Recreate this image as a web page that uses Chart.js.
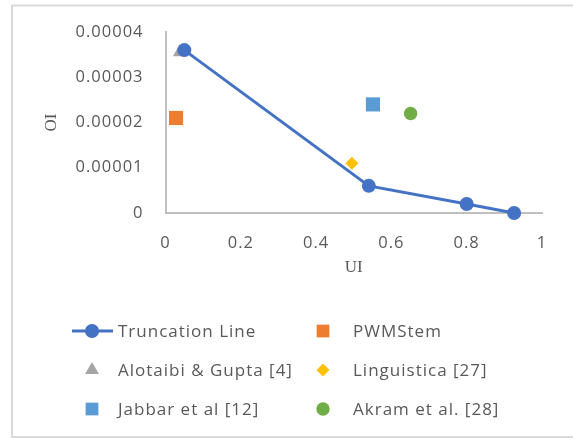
<!DOCTYPE html>
<html>
<head>
<meta charset="utf-8">
<script src="https://cdn.jsdelivr.net/npm/chart.js@4/dist/chart.umd.min.js"></script>
<style>
  html, body { margin: 0; padding: 0; background: #fff; }
  #wrap { position: relative; width: 573px; height: 439px; }
</style>
</head>
<body>
<div id="wrap"><canvas id="c" width="573" height="439"></canvas></div>
<script>
// Truncation line (UI, OI) pairs
const truncUI = [0.05, 0.54, 0.80, 0.926];
const truncOI = [0.000036, 0.000006, 0.000002, 0.0];

// Individual stemmers
const pwmUI = [0.028];        const pwmOI = [0.000021];
const alotaibiUI = [0.038];   const alotaibiOI = [0.0000355];
const linguisticaUI = [0.495]; const linguisticaOI = [0.000011];
const jabbarUI = [0.551];     const jabbarOI = [0.000024];
const akramUI = [0.651];      const akramOI = [0.000022];

const seriesNames = ['Truncation Line', 'PWMStem', 'Alotaibi & Gupta [4]', 'Linguistica [27]', 'Jabbar et al [12]', 'Akram et al. [28]'];

const xTickLabels = ['0', '0.2', '0.4', '0.6', '0.8', '1'];
const yTickLabels = ['0', '0.00001', '0.00002', '0.00003', '0.00004'];

const toPoints = (xs, ys) => xs.map((x, i) => ({ x: x, y: ys[i] }));

const TEXT = '#595959';
const AXIS = '#bfbfbf';
const SANS = '"Open Sans", Lato, sans-serif';
const SERIF = '"Liberation Serif", serif';

function marker(label, xs, ys, style, color, radius) {
  return {
    label: label,
    data: toPoints(xs, ys),
    showLine: false,
    pointStyle: style,
    pointRadius: radius,
    pointHoverRadius: radius,
    pointBackgroundColor: color,
    pointBorderColor: color,
    pointBorderWidth: 0,
    backgroundColor: color,
    borderColor: color,
    clip: false
  };
}

const datasets = [
  {
    label: seriesNames[0],
    data: toPoints(truncUI, truncOI),
    showLine: true,
    borderColor: '#4472C4',
    backgroundColor: '#4472C4',
    borderWidth: 3,
    tension: 0,
    pointStyle: 'circle',
    pointRadius: 7,
    pointHoverRadius: 7,
    pointBackgroundColor: '#4472C4',
    pointBorderColor: '#4472C4',
    pointBorderWidth: 0,
    clip: false
  },
  marker(seriesNames[1], pwmUI, pwmOI, 'rect', '#ED7D31', 10),
  marker(seriesNames[2], alotaibiUI, alotaibiOI, 'triangle', '#A5A5A5', 8),
  marker(seriesNames[3], linguisticaUI, linguisticaOI, 'rectRot', '#FFC000', 6.5),
  marker(seriesNames[4], jabbarUI, jabbarOI, 'rect', '#5B9BD5', 10),
  marker(seriesNames[5], akramUI, akramOI, 'circle', '#70AD47', 6.7)
];

// Slightly wider letter spacing for the sans tick text; axis titles keep normal spacing
const spacing = {
  id: 'spacing',
  beforeUpdate(chart) { chart.ctx.letterSpacing = '1px'; },
  afterLayout(chart) {
    Object.values(chart.scales).forEach(scale => {
      if (scale._plainTitle) return;
      const orig = scale.drawTitle.bind(scale);
      scale.drawTitle = function () {
        const ctx = this.ctx;
        const prev = ctx.letterSpacing;
        ctx.letterSpacing = '0px';
        orig();
        ctx.letterSpacing = prev;
      };
      scale._plainTitle = true;
    });
  },
  beforeDraw(chart) { chart.ctx.letterSpacing = '1px'; }
};

// Frame around the whole chart object
const framePlugin = {
  id: 'frame',
  beforeDraw(chart) {
    const ctx = chart.ctx;
    ctx.save();
    ctx.strokeStyle = '#d9d9d9';
    ctx.lineWidth = 2;
    ctx.strokeRect(12, 5.5, 620, 431.5);
    ctx.restore();
  }
};

// Two-column legend beneath the plot
const gridLegend = {
  id: 'gridLegend',
  afterDraw(chart) {
    const ctx = chart.ctx;
    const colMarkerX = [92, 323];
    const colTextX = [118, 353];
    const rowY = [331, 370, 409];
    ctx.save();
    ctx.letterSpacing = '1px';
    ctx.font = '17px ' + SANS;
    ctx.fillStyle = TEXT;
    ctx.textBaseline = 'middle';
    ctx.textAlign = 'left';
    chart.data.datasets.forEach((ds, i) => {
      const col = i % 2, row = Math.floor(i / 2);
      const mx = colMarkerX[col], my = rowY[row];
      if (ds.showLine) {
        ctx.strokeStyle = ds.borderColor;
        ctx.lineWidth = ds.borderWidth;
        ctx.beginPath();
        ctx.moveTo(mx - 20, my);
        ctx.lineTo(mx + 21, my);
        ctx.stroke();
      }
      ctx.fillStyle = ds.pointBackgroundColor;
      ctx.strokeStyle = ds.pointBorderColor;
      Chart.helpers.drawPoint(ctx, {
        pointStyle: ds.pointStyle,
        radius: ds.pointStyle === 'rect' ? 9 : ds.pointRadius,
        borderWidth: 0,
        rotation: 0
      }, mx, my);
      ctx.fillStyle = TEXT;
      ctx.fillText(ds.label, colTextX[col], my + 1);
    });
    ctx.restore();
  }
};

new Chart(document.getElementById('c'), {
  type: 'scatter',
  data: { datasets: datasets },
  plugins: [spacing, framePlugin, gridLegend],
  options: {
    responsive: false,
    animation: false,
    events: [],
    layout: { padding: { left: 12, top: 32, right: 31, bottom: 156 } },
    plugins: {
      legend: { display: false },
      tooltip: { enabled: false }
    },
    scales: {
      x: {
        type: 'linear',
        min: 0,
        max: 1,
        afterFit(scale) { scale.height = 70; },
        grid: { display: false, drawTicks: false },
        border: { display: true, color: AXIS, width: 2 },
        ticks: {
          stepSize: 0.2,
          padding: 20,
          color: TEXT,
          font: { family: SANS, size: 16.5 },
          callback: (v, i) => xTickLabels[i]
        },
        title: {
          display: true,
          text: 'UI',
          color: TEXT,
          font: { family: SERIF, size: 17 },
          padding: { top: 0, bottom: 5 }
        }
      },
      y: {
        type: 'linear',
        min: 0,
        max: 0.00004,
        afterFit(scale) { scale.width = 153.5; },
        grid: { display: false, drawTicks: false },
        border: { display: true, color: AXIS, width: 2 },
        ticks: {
          stepSize: 0.00001,
          padding: 22,
          color: TEXT,
          font: { family: SANS, size: 16.5 },
          callback: (v, i) => yTickLabels[i]
        },
        title: {
          display: true,
          text: 'OI',
          color: TEXT,
          font: { family: SERIF, size: 17 },
          padding: { top: 29, bottom: 0 }
        }
      }
    }
  }
});
</script>
</body>
</html>
